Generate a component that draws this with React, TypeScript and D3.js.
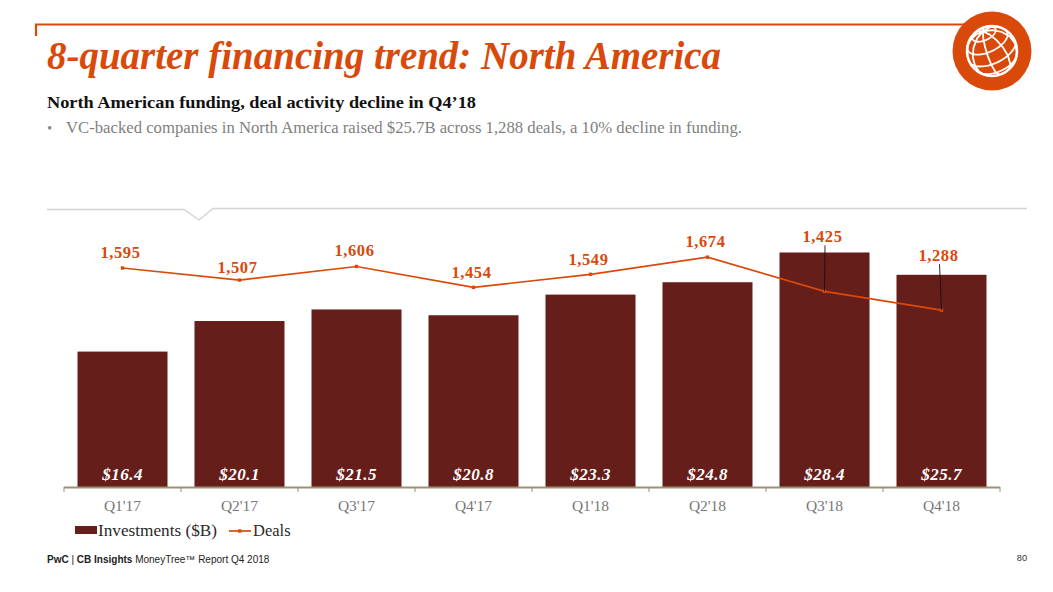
import React from "react";
import * as d3 from "d3";

const quarters = ["Q1'17", "Q2'17", "Q3'17", "Q4'17", "Q1'18", "Q2'18", "Q3'18", "Q4'18"];
const investments = [16.4, 20.1, 21.5, 20.8, 23.3, 24.8, 28.4, 25.7];
const deals = [1595, 1507, 1606, 1454, 1549, 1674, 1425, 1288];
const investmentLabels = ["$16.4", "$20.1", "$21.5", "$20.8", "$23.3", "$24.8", "$28.4", "$25.7"];

// label placement above each line point (layout, not data)
const dealLabelOffsets = [-10, -7, -10, -9, -9, -10, -49, -49];

const ORANGE = "#d94a0a";
const MAROON = "#651e1a";
const SERIF = "'Liberation Serif', serif";
const BASE = 487;

export default function App() {
  const x = d3.scaleBand<string>().domain(quarters).range([64, 1000]).paddingInner(27 / 117).paddingOuter(13.5 / 117);
  const yInv = d3.scaleLinear().domain([0, 35]).range([BASE, BASE - 289]);
  const yDeals = d3.scaleLinear().domain([0, 2000]).range([BASE, BASE - 274.6]);
  const cx = (q: string) => (x(q) as number) + x.bandwidth() / 2;
  const line = d3.line<number>().x((_, i) => cx(quarters[i])).y((d) => yDeals(d));
  const step = x.step();

  const gx = 992, gy = 51, gr = 26;
  const projection = d3.geoOrthographic().scale(gr - 1).translate([gx, gy]).rotate([-15, -30, 25]).clipAngle(90);
  const geo = d3.geoPath(projection);
  const graticule = d3.geoGraticule().step([45, 30]).extent([[-180, -90], [180, 90]])();

  return (
    <svg width={1053} height={592} style={{ position: "absolute", left: 0, top: 0, background: "#fff" }}>
      <path d="M36,36 V24.5 H965" fill="none" stroke={ORANGE} strokeWidth={2.2} />
      <circle cx={gx} cy={gy} r={39.5} fill={ORANGE} />
      <circle cx={gx} cy={gy} r={25} fill="none" stroke="#fff" strokeWidth={2.6} />
      <path d={geo(graticule) || ""} fill="none" stroke="#fff" strokeWidth={1.8} />

      <text x={47} y={69} fontFamily={SERIF} fontSize={39} fontWeight={700} fontStyle="italic" fill={ORANGE} textLength={674} lengthAdjust="spacingAndGlyphs">8-quarter financing trend: North America</text>
      <text x={47} y={108} fontFamily={SERIF} fontSize={17.7} fontWeight={700} fill="#111" textLength={429} lengthAdjust="spacingAndGlyphs">North American funding, deal activity decline in Q4’18</text>
      <text x={47} y={133} fontFamily={SERIF} fontSize={15} fill="#8a8a8a">•</text>
      <text x={66} y={133} fontFamily={SERIF} fontSize={16.6} fill="#7f7f7f" textLength={676} lengthAdjust="spacingAndGlyphs">VC-backed companies in North America raised $25.7B across 1,288 deals, a 10% decline in funding.</text>

      <path d="M47,209.5 H184 L199,220 L213,208.5 H1027" fill="none" stroke="#d2d2d2" strokeWidth={1.3} />

      {quarters.map((q, i) => (
        <rect key={q} x={x(q)} y={yInv(investments[i])} width={x.bandwidth()} height={BASE - yInv(investments[i])} fill={MAROON} />
      ))}

      <line x1={64} x2={1000} y1={487.5} y2={487.5} stroke="#9c9270" strokeWidth={2} />
      {d3.range(quarters.length + 1).map((i) => (
        <line key={i} x1={64 + i * step} x2={64 + i * step} y1={487} y2={492} stroke="#9c9270" strokeWidth={1} />
      ))}

      <path d={line(deals) || ""} fill="none" stroke={ORANGE} strokeWidth={1.7} />
      {deals.map((d, i) => (
        <rect key={i} x={cx(quarters[i]) - 1.7} y={yDeals(d) - 1.7} width={3.4} height={3.4} fill={ORANGE} />
      ))}

      {[6, 7].map((i) => (
        <line key={i} x1={cx(quarters[i]) + (i === 6 ? 0.5 : -2)} x2={cx(quarters[i])} y1={yDeals(deals[i]) + dealLabelOffsets[i] + 3} y2={yDeals(deals[i])} stroke="#1a1015" strokeWidth={0.9} />
      ))}

      {deals.map((d, i) => (
        <text key={i} x={cx(quarters[i]) + (i === 7 ? -3 : -2)} y={yDeals(d) + dealLabelOffsets[i]} textAnchor="middle" fontFamily={SERIF} fontSize={16.5} fontWeight={700} fill={ORANGE} letterSpacing={0.6}>
          {d3.format(",")(d)}
        </text>
      ))}

      {quarters.map((q, i) => (
        <text key={q} x={cx(q)} y={479.5} textAnchor="middle" fontFamily={SERIF} fontSize={17} fontWeight={700} fontStyle="italic" fill="#fff" letterSpacing={0.5}>
          {investmentLabels[i]}
        </text>
      ))}

      {quarters.map((q) => (
        <text key={q} x={cx(q)} y={511} textAnchor="middle" fontFamily={SERIF} fontSize={15.5} fill="#777">{q}</text>
      ))}

      <rect x={75} y={526} width={22} height={8} fill={MAROON} />
      <text x={98} y={536} fontFamily={SERIF} fontSize={16.5} fill="#2a2a2a" textLength={119} lengthAdjust="spacingAndGlyphs">Investments ($B)</text>
      <line x1={229} x2={251} y1={531} y2={531} stroke={ORANGE} strokeWidth={1.7} />
      <rect x={238} y={529.3} width={3.4} height={3.4} fill={ORANGE} />
      <text x={253} y={536} fontFamily={SERIF} fontSize={16.5} fill="#2a2a2a">Deals</text>

      <text x={47} y={563} fontFamily="'Liberation Sans', sans-serif" fontSize={10} fill="#222">
        <tspan fontWeight={700}>PwC</tspan> | <tspan fontWeight={700}>CB Insights</tspan> MoneyTree™ Report Q4 2018
      </text>
      <text x={1027} y={561} textAnchor="end" fontFamily="'Liberation Sans', sans-serif" fontSize={9.2} fill="#333">80</text>
    </svg>
  );
}
